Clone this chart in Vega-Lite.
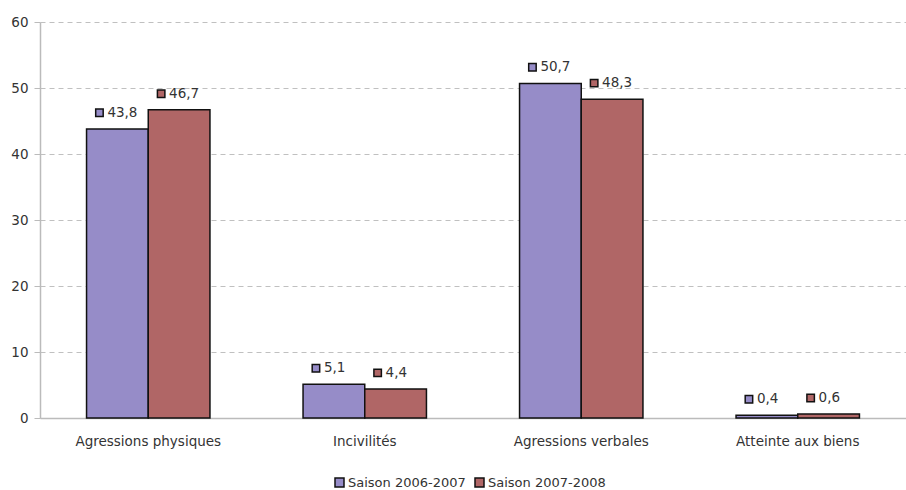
{
  "$schema": "https://vega.github.io/schema/vega-lite/v6.json",
  "width": 866,
  "height": 396,
  "autosize": {"type": "none"},
  "padding": {"left": 40, "top": 22, "right": 0, "bottom": 72},
  "background": "white",
  "config": {
    "font": "DejaVu Sans",
    "locale": {"number": {"decimal": ",", "thousands": " ", "grouping": [3], "currency": ["", " €"]}},
    "view": {"stroke": null}
  },
  "data": {
    "values": [
      {"categorie": "Agressions physiques", "saison": "Saison 2006-2007", "valeur": 43.8},
      {"categorie": "Agressions physiques", "saison": "Saison 2007-2008", "valeur": 46.7},
      {"categorie": "Incivilités", "saison": "Saison 2006-2007", "valeur": 5.1},
      {"categorie": "Incivilités", "saison": "Saison 2007-2008", "valeur": 4.4},
      {"categorie": "Agressions verbales", "saison": "Saison 2006-2007", "valeur": 50.7},
      {"categorie": "Agressions verbales", "saison": "Saison 2007-2008", "valeur": 48.3},
      {"categorie": "Atteinte aux biens", "saison": "Saison 2006-2007", "valeur": 0.4},
      {"categorie": "Atteinte aux biens", "saison": "Saison 2007-2008", "valeur": 0.6}
    ]
  },
  "encoding": {
    "x": {
      "field": "categorie",
      "type": "nominal",
      "sort": null,
      "title": null,
      "scale": {"paddingInner": 0.43, "paddingOuter": 0.215},
      "axis": {
        "labelAngle": 0,
        "labelFontSize": 13.5,
        "labelColor": "#333333",
        "labelPadding": 16,
        "ticks": false,
        "domainColor": "#bbbbbb",
        "domainWidth": 1.5
      }
    },
    "xOffset": {"field": "saison", "type": "nominal", "sort": null},
    "y": {
      "field": "valeur",
      "type": "quantitative",
      "title": null,
      "scale": {"domain": [0, 60], "nice": false},
      "axis": {
        "values": [0, 10, 20, 30, 40, 50, 60],
        "labelFontSize": 13.5,
        "labelColor": "#333333",
        "labelPadding": 6,
        "tickSize": 6,
        "tickColor": "#bbbbbb",
        "domainColor": "#bbbbbb",
        "domainWidth": 1.5,
        "gridDash": [5, 4],
        "gridColor": "#c0c0c0",
        "gridWidth": 1
      }
    }
  },
  "layer": [
    {
      "mark": {"type": "bar", "stroke": "#111111", "strokeWidth": 1.5},
      "encoding": {
        "color": {
          "field": "saison",
          "type": "nominal",
          "sort": null,
          "scale": {"range": ["#968cc8", "#b06666"]},
          "legend": {
            "title": null,
            "orient": "none",
            "legendX": 293,
            "legendY": 454,
            "direction": "horizontal",
            "symbolType": "square",
            "symbolSize": 81,
            "symbolStrokeColor": "#111111",
            "symbolStrokeWidth": 1.5,
            "labelFontSize": 13,
            "labelColor": "#333333",
            "labelOffset": 2,
            "columnPadding": 6
          }
        }
      }
    },
    {
      "mark": {
        "type": "point",
        "filled": true,
        "size": 56,
        "shape": "M -5.8 -5.3 H -3.8 V -3.3 H -5.8 Z",
        "stroke": "#111111",
        "strokeWidth": 1.5,
        "opacity": 1
      },
      "encoding": {
        "fill": {"field": "saison", "type": "nominal", "sort": null, "scale": {"range": ["#968cc8", "#b06666"]}, "legend": null}
      }
    },
    {
      "mark": {
        "type": "text",
        "align": "left",
        "baseline": "middle",
        "dx": -10,
        "dy": -16,
        "fontSize": 13.5,
        "color": "#333333"
      },
      "encoding": {
        "text": {"field": "valeur", "type": "quantitative", "format": ".1f"}
      }
    }
  ]
}
